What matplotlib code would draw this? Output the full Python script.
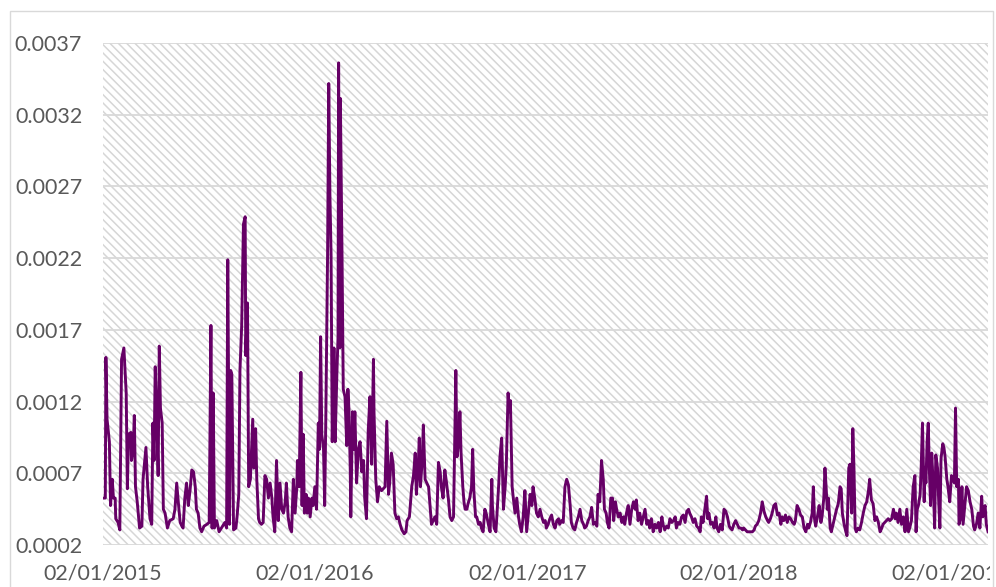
import pandas as pd
import matplotlib
matplotlib.use("Agg")
import matplotlib.pyplot as plt
import matplotlib.dates as mdates
from matplotlib.patches import Rectangle
from matplotlib.transforms import Bbox, TransformedBbox

# daily volatility
# days counted from 02/01/2015, values in units of 1e-4
start_date = "2015-01-02"
days = [
    0, 4, 5, 7, 11, 13, 16, 18, 21, 22, 26, 29, 32, 36, 40, 42, 44, 48, 49, 52,
    54, 56, 59, 63, 67, 69, 74, 77, 81, 84, 86, 88, 90, 92, 95, 97, 99, 102, 104, 107,
    111, 115, 121, 124, 127, 130, 133, 136, 138, 141, 144, 147, 150, 153, 156, 159, 161, 164, 167, 170,
    174, 179, 183, 186, 188, 190, 192, 196, 200, 204, 210, 213, 215, 218, 220, 222, 225, 229, 231, 234,
    236, 239, 242, 245, 246, 249, 251, 254, 258, 260, 263, 265, 268, 270, 273, 276, 279, 282, 285, 288,
    291, 293, 296, 299, 302, 305, 308, 311, 314, 316, 319, 322, 325, 328, 331, 334, 335, 338, 341, 343,
    345, 347, 350, 352, 354, 357, 360, 362, 365, 368, 371, 373, 375, 377, 380, 382, 384, 387, 389,
    391, 393, 395, 398, 400, 403, 405, 406, 408, 409, 412, 414, 417, 420, 422, 424, 426, 427, 430, 432,
    434, 437, 440, 443, 446, 449, 451, 454, 457, 460, 463, 466, 467, 470, 473, 476, 480, 486, 489, 492,
    494, 497, 500, 503, 506, 509, 512, 515, 519, 522, 524, 528, 532, 535, 538, 540, 543, 545, 547, 550,
    552, 555, 558, 561, 563, 566, 569, 572, 575, 578, 581, 583, 586, 589, 592, 595, 598, 601, 604, 606,
    608, 610, 613, 615, 617, 620, 622, 624, 627, 629, 632, 635, 637, 639, 642, 644, 647, 650, 652, 655,
    658, 661, 664, 667, 670, 671, 674, 677, 679, 682, 684, 687, 690, 693, 695, 698, 700, 702, 705, 707,
    710, 713, 716, 718, 721, 724, 727, 730, 733, 736, 739, 741, 744, 747, 750, 753, 756, 759, 762, 764,
    767, 770, 773, 776, 779, 782, 785, 787, 790, 793, 796, 799, 802, 805, 807, 810, 813, 816, 819, 822,
    825, 828, 830, 833, 836, 839, 842, 845, 848, 851, 853, 856, 859, 862, 864, 867, 869, 872, 875, 878,
    880, 883, 885, 888, 891, 894, 897, 899, 902, 905, 908, 911, 914, 917, 919, 922, 925,
    928, 931, 934, 937, 940, 942, 945, 948, 951, 954, 957, 960, 963, 965, 968, 971, 974, 977, 980, 983,
    986, 988, 991, 994, 997, 1000, 1003, 1006, 1009, 1011, 1014, 1017, 1020, 1023, 1026, 1029, 1031, 1034, 1037, 1040,
    1042, 1044, 1047, 1050, 1053, 1056, 1058, 1061, 1064, 1067, 1070, 1073, 1076, 1079, 1081, 1084, 1087, 1090, 1093, 1096,
    1099, 1102, 1104, 1107, 1110, 1113, 1116, 1119, 1122, 1124, 1127, 1130, 1133, 1136, 1139, 1142, 1145, 1147, 1150, 1153,
    1156, 1159, 1162, 1165, 1168, 1170, 1173, 1176, 1179, 1182, 1185, 1188, 1191, 1193, 1196, 1199, 1202, 1205, 1208, 1211,
    1214, 1216, 1219, 1222, 1224, 1226, 1228, 1231, 1234, 1237, 1239, 1242, 1244, 1246, 1248, 1250, 1253, 1255, 1258, 1261,
    1264, 1267, 1270, 1272, 1274, 1277, 1280, 1282, 1285, 1287, 1290, 1292, 1294, 1296, 1298, 1301, 1304, 1307, 1310, 1313,
    1316, 1319, 1321, 1324, 1327, 1330, 1333, 1336, 1339, 1342, 1344, 1347, 1350, 1353, 1356, 1359, 1362, 1365, 1367, 1370,
    1373, 1376, 1379, 1382, 1385, 1388, 1390, 1393, 1396, 1399, 1401, 1403, 1405, 1408, 1410, 1412, 1415, 1416, 1418, 1420,
    1422, 1424, 1426, 1428, 1431, 1433, 1435, 1438, 1440, 1442, 1444, 1447, 1449, 1451, 1454, 1456, 1459, 1462, 1465, 1467,
    1469, 1471, 1474, 1475, 1478, 1480, 1482, 1485, 1488, 1491, 1494, 1497, 1500, 1502, 1505, 1508, 1511, 1514, 1516, 1518,
    1520, 1522, 1525,
]
vol_e4 = [
    5.27, 5.27, 15.08, 10.77, 9.20, 4.75, 6.58, 5.27, 5.27, 3.83, 3.57, 3.05, 14.95, 15.74, 12.60, 5.92, 9.72, 9.85, 7.89, 8.67,
    11.03, 6.06, 5.01, 3.18, 3.31, 6.58, 8.80, 6.06, 3.83, 3.44, 10.50, 7.89, 14.43, 11.81, 6.84, 15.87, 11.55, 10.50, 4.49, 4.22,
    3.18, 3.70, 3.83, 4.49, 6.32, 4.88, 3.57, 3.31, 3.18, 5.27, 6.32, 4.75, 5.79, 7.23, 7.10, 6.06, 4.49, 4.22, 3.18, 2.92,
    3.31, 3.44, 3.57, 17.31, 3.18, 12.60, 3.18, 3.70, 2.92, 3.18, 3.57, 3.18, 21.89, 3.44, 14.17, 13.90, 3.05, 3.18, 3.96, 5.53,
    14.17, 17.31, 24.37, 24.89, 15.21, 18.88, 6.06, 6.58, 10.77, 7.36, 10.11, 6.58, 3.83, 3.57, 3.44, 3.57, 6.84, 6.58, 5.27, 6.32,
    5.27, 3.96, 2.92, 7.89, 3.70, 6.32, 4.49, 4.22, 5.01, 6.32, 3.96, 3.18, 2.92, 6.58, 4.22, 6.06, 7.89, 6.06, 14.04, 4.75,
    9.72, 4.22, 5.53, 4.22, 5.27, 3.96, 5.27, 4.75, 6.06, 4.49, 10.50, 8.67, 16.52, 9.72, 8.67, 4.75, 11.03, 22.28, 34.18,
    26.46, 22.28, 9.20, 15.74, 9.20, 13.90, 16.52, 35.62, 15.74, 33.14, 21.75, 12.86, 12.34, 8.93, 12.86, 11.29, 7.36, 3.96, 11.29, 8.67,
    11.29, 6.32, 8.67, 9.20, 7.10, 7.89, 5.27, 3.83, 9.98, 12.34, 7.63, 14.95, 11.29, 6.58, 5.01, 6.06, 5.79, 6.06, 10.63, 5.53,
    6.32, 8.41, 7.63, 4.22, 3.83, 3.96, 3.44, 3.05, 2.78, 2.92, 3.70, 3.96, 6.06, 6.84, 8.41, 5.53, 7.36, 9.46, 6.06, 7.89,
    10.37, 6.58, 6.32, 6.06, 5.01, 3.44, 3.70, 3.96, 3.44, 7.76, 7.10, 6.06, 5.27, 7.23, 6.32, 5.27, 3.96, 3.70, 3.96, 9.20,
    14.17, 8.15, 9.20, 11.29, 8.41, 6.06, 5.01, 4.49, 4.49, 4.88, 5.27, 6.06, 8.67, 5.79, 3.96, 3.96, 3.44, 3.57, 3.18, 2.92,
    4.49, 4.09, 3.44, 2.92, 6.58, 4.75, 3.18, 2.92, 4.22, 6.32, 8.15, 9.46, 4.49, 6.06, 7.63, 12.60, 11.29, 12.07, 6.06, 5.27,
    4.22, 5.27, 3.96, 3.44, 2.92, 3.96, 5.79, 2.92, 4.22, 5.53, 4.75, 6.06, 5.27, 4.22, 3.96, 4.49, 3.96, 3.57, 3.70, 3.18,
    3.44, 3.83, 4.09, 3.44, 3.18, 3.70, 3.83, 3.44, 3.70, 3.57, 6.06, 6.58, 6.19, 4.75, 3.57, 3.18, 3.05, 3.57, 3.96, 4.49,
    3.70, 3.44, 3.18, 3.31, 3.70, 3.96, 4.62, 3.44, 3.57, 3.31, 5.53, 5.01, 7.89, 6.58, 4.49, 4.22, 3.57, 3.18, 5.27, 5.27,
    3.70, 5.01, 4.49, 3.96, 4.22, 3.57, 3.96, 3.44, 4.22, 4.75, 3.44, 4.49, 5.01, 4.49, 5.14, 3.70, 4.22,
    3.44, 3.96, 4.49, 3.44, 3.70, 3.18, 3.83, 2.92, 3.44, 3.18, 3.57, 2.92, 3.96, 3.44, 3.05, 3.31, 3.18, 3.83, 3.57, 3.70,
    3.96, 3.18, 3.57, 3.44, 3.96, 4.09, 3.57, 4.35, 4.49, 4.22, 3.96, 3.57, 3.83, 3.31, 3.18, 2.92, 3.96, 3.57, 4.49, 5.40,
    3.83, 4.22, 3.44, 3.57, 3.18, 3.96, 3.18, 2.92, 3.44, 3.05, 4.49, 4.35, 3.96, 3.31, 3.18, 3.05, 3.44, 3.70, 3.44, 3.18,
    3.18, 3.05, 3.18, 3.05, 2.92, 2.92, 2.92, 2.92, 3.05, 3.31, 3.44, 3.70, 4.22, 5.01, 4.35, 3.96, 3.70, 3.57, 3.83, 4.22,
    4.75, 4.88, 4.09, 4.22, 3.44, 3.96, 3.70, 4.09, 3.57, 3.96, 3.83, 3.57, 3.44, 3.70, 4.75, 4.49, 4.09, 3.96, 3.18, 2.92,
    3.44, 3.18, 3.57, 4.22, 6.06, 3.83, 3.31, 3.96, 4.75, 3.57, 3.96, 5.27, 7.36, 6.06, 4.49, 5.27, 3.18, 2.92, 3.44, 3.96,
    4.49, 4.88, 6.06, 5.92, 4.22, 3.44, 2.92, 2.65, 7.36, 7.63, 4.22, 10.11, 7.36, 3.18, 2.92, 3.18, 3.05, 3.57, 4.22, 4.75,
    5.01, 5.79, 6.58, 5.14, 4.88, 3.70, 3.96, 3.57, 2.92, 3.18, 3.44, 3.57, 3.70, 3.83, 3.70, 3.83, 4.49, 3.83, 4.22, 3.57,
    4.49, 3.44, 3.96, 2.92, 4.49, 2.92, 3.18, 3.70, 6.06, 6.84, 2.92, 4.49, 4.75, 5.53, 7.63, 10.50, 5.01, 7.36, 6.32, 9.20,
    10.50, 7.10, 4.75, 8.41, 5.79, 3.18, 8.28, 7.36, 5.01, 3.18, 8.02, 9.06, 8.80, 8.15, 6.58, 6.06, 5.01, 6.84, 6.58, 6.32,
    11.55, 6.06, 6.58, 3.44, 3.96, 6.06, 3.44, 4.75, 6.06, 5.79, 5.01, 4.49, 3.31, 3.05, 3.44, 4.22, 3.18, 5.40, 3.96, 4.49,
    4.75, 3.44, 2.92,
]

tick_dates = ["2015-01-02", "2016-01-02", "2017-01-02", "2018-01-02", "2019-01-02"]
y_ticks = [0.0002, 0.0007, 0.0012, 0.0017, 0.0022, 0.0027, 0.0032, 0.0037]

dates = pd.Timestamp(start_date) + pd.to_timedelta(days, unit="D")
vol = pd.Series(vol_e4, index=dates) * 1e-4

plt.rcParams["font.family"] = ["Lato", "DejaVu Sans"]
plt.rcParams["hatch.linewidth"] = 1.1

fig = plt.figure(figsize=(9.96, 5.87), dpi=100)
ax = fig.add_axes([0.1034, 0.0716, 0.8886, 0.855])

# hatched plot area background
ax.add_patch(Rectangle((0, 0), 1, 1, transform=ax.transAxes, facecolor="white",
                       edgecolor="#D6D6D6", hatch="\\\\\\\\", linewidth=0, zorder=0))

ax.plot(vol.index, vol.values, color="#660066", linewidth=2.1,
        solid_joinstyle="round", zorder=3)

ax.set_ylim(0.0002, 0.0037)
ax.set_yticks(y_ticks)
ax.set_yticklabels([f"{t:.4f}" for t in y_ticks])
ax.set_xlim(vol.index[0], vol.index[-1])
ax.set_xticks(pd.to_datetime(tick_dates))
ax.xaxis.set_major_formatter(mdates.DateFormatter("%d/%m/%Y"))

ax.grid(axis="y", color="#D9D9D9", linewidth=1.3, zorder=1)
ax.set_axisbelow(True)
for s in ax.spines.values():
    s.set_visible(False)
ax.tick_params(axis="both", length=0, labelsize=15.5, labelcolor="#595959")
ax.tick_params(axis="y", pad=15)
ax.tick_params(axis="x", pad=13)

# last date label runs past the chart border
clip = TransformedBbox(Bbox([[0, 0], [990 / 996, 1]]), fig.transFigure)
for lab in ax.get_xticklabels():
    lab.set_clip_box(clip)
    lab.set_clip_on(True)

# chart area border
fig.patches.append(Rectangle((10 / 996, -0.05), 983 / 996, 1.05 - 11 / 587,
                             transform=fig.transFigure, fill=False,
                             edgecolor="#D9D9D9", linewidth=1.0))

fig.savefig("out.png", dpi=100)
